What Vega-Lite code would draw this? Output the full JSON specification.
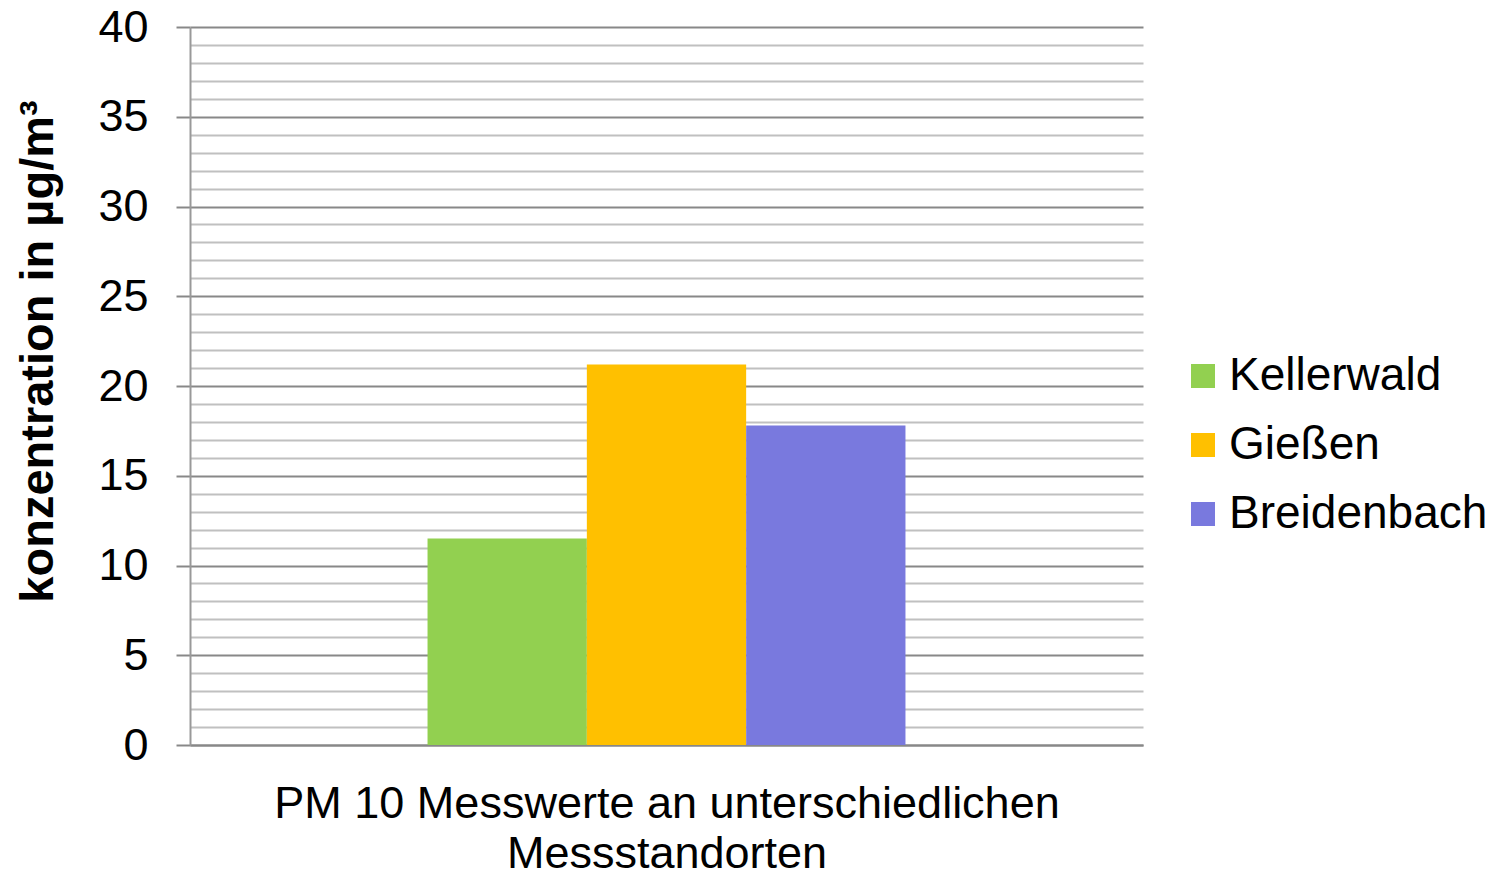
{
  "$schema": "https://vega.github.io/schema/vega-lite/v6.json",
  "autosize": "none",
  "width": 953,
  "height": 718,
  "padding": {"left": 190, "top": 27, "right": 359, "bottom": 133},
  "background": "white",
  "config": {
    "view": {"stroke": null},
    "font": "Liberation Sans"
  },
  "data": {
    "values": [
      {"Gruppe": "PM 10", "Standort": "Kellerwald", "Konzentration": 11.5},
      {"Gruppe": "PM 10", "Standort": "Gießen", "Konzentration": 21.2},
      {"Gruppe": "PM 10", "Standort": "Breidenbach", "Konzentration": 17.8}
    ]
  },
  "mark": {"type": "bar"},
  "encoding": {
    "x": {
      "field": "Gruppe",
      "type": "nominal",
      "scale": {"paddingInner": 0, "paddingOuter": 0.497},
      "axis": {
        "title": ["PM 10 Messwerte an unterschiedlichen", "Messstandorten"],
        "titleFont": "Liberation Sans",
        "titleFontSize": 45,
        "titleFontWeight": "normal",
        "titleColor": "black",
        "titleBaseline": "alphabetic",
        "titleY": 72,
        "titleLineHeight": 50,
        "labels": false,
        "ticks": false,
        "domain": true,
        "domainColor": "#888888",
        "domainWidth": 2
      }
    },
    "xOffset": {
      "field": "Standort",
      "type": "nominal",
      "sort": ["Kellerwald", "Gießen", "Breidenbach"],
      "scale": {"paddingInner": 0, "paddingOuter": 0}
    },
    "y": {
      "field": "Konzentration",
      "type": "quantitative",
      "scale": {"domain": [0, 40], "nice": false},
      "axis": {
        "title": "konzentration in µg/m³",
        "titleFont": "Liberation Sans",
        "titleFontSize": 47,
        "titleFontWeight": "bold",
        "titleColor": "black",
        "titleAngle": 270,
        "titleBaseline": "alphabetic",
        "titleAlign": "center",
        "titleX": -138,
        "titleY": 324,
        "values": [0,1,2,3,4,5,6,7,8,9,10,11,12,13,14,15,16,17,18,19,20,21,22,23,24,25,26,27,28,29,30,31,32,33,34,35,36,37,38,39,40],
        "labelExpr": "datum.value % 5 === 0 ? datum.label : ''",
        "labelFont": "Liberation Sans",
        "labelFontSize": 45,
        "labelColor": "black",
        "labelPadding": 28,
        "labelOverlap": false,
        "tickSize": 14,
        "tickWidth": 2,
        "tickColor": "#888888",
        "tickOpacity": {"condition": {"test": "datum.value % 5 === 0", "value": 1}, "value": 0},
        "grid": true,
        "gridColor": {"condition": {"test": "datum.value % 5 === 0", "value": "#888888"}, "value": "#c0c0c0"},
        "gridWidth": 2,
        "domain": true,
        "domainColor": "#999999",
        "domainWidth": 2
      }
    },
    "color": {
      "field": "Standort",
      "type": "nominal",
      "sort": ["Kellerwald", "Gießen", "Breidenbach"],
      "scale": {"domain": ["Kellerwald", "Gießen", "Breidenbach"], "range": ["#92d050", "#ffc000", "#7979de"]},
      "legend": {
        "title": null,
        "orient": "none",
        "legendX": 990,
        "legendY": 326,
        "symbolType": "square",
        "symbolSize": 576,
        "symbolStrokeWidth": 0,
        "symbolOpacity": 1,
        "labelFont": "Liberation Sans",
        "labelFontSize": 46,
        "labelColor": "black",
        "labelOffset": 3,
        "rowPadding": 23,
        "labelLimit": 400
      }
    }
  }
}
